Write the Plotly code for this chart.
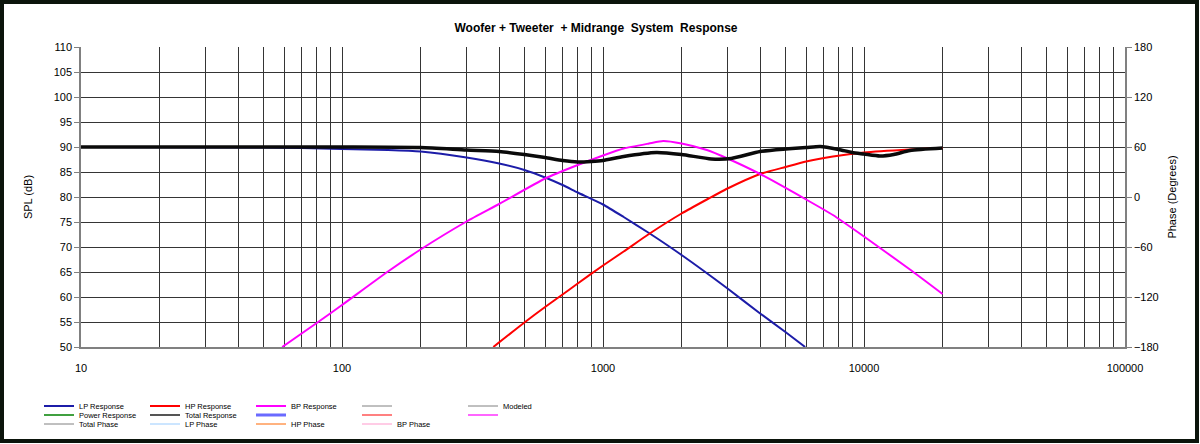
import plotly.graph_objects as go

# values (Hz, dB SPL)
lp_freq = [10, 50, 70, 100, 150, 200, 300, 400, 500, 600, 700, 800, 1000, 1200, 1500, 2000, 3000, 4000, 5000, 5950]
lp_spl = [90.0, 89.9, 89.8, 89.6, 89.4, 89.1, 87.9, 86.7, 85.4, 83.9, 82.4, 80.9, 78.5, 76.0, 72.8, 68.4, 61.7, 56.7, 53.0, 50.0]

hp_freq = [380, 500, 600, 700, 800, 1000, 1200, 1500, 2000, 2500, 3000, 4000, 5000, 6000, 7600, 10000, 15000, 20000]
hp_spl = [50.0, 54.9, 58.0, 60.5, 62.7, 66.3, 69.1, 72.6, 76.7, 79.5, 81.7, 84.6, 86.0, 87.1, 88.1, 88.9, 89.5, 89.8]

bp_freq = [59, 80, 100, 150, 200, 300, 400, 600, 800, 1000, 1200, 1500, 1700, 2000, 2500, 3000, 4000, 6000, 7600, 10000, 15000, 20000]
bp_spl = [50.0, 54.8, 58.4, 65.1, 69.5, 75.1, 78.6, 83.7, 86.4, 88.3, 89.7, 90.7, 91.2, 90.7, 89.4, 87.7, 84.6, 79.5, 76.4, 72.1, 65.5, 60.6]

tot_freq = [10, 100, 200, 300, 400, 500, 600, 700, 800, 900, 1000, 1200, 1600, 2000, 2600, 3100, 4000, 5000, 6000, 6800, 8000, 9000, 10000, 11500, 13000, 15000, 20000]
tot_spl = [90.0, 90.0, 89.9, 89.4, 89.1, 88.5, 87.9, 87.3, 87.0, 87.1, 87.3, 88.1, 88.9, 88.5, 87.6, 87.7, 89.1, 89.6, 89.9, 90.1, 89.5, 88.9, 88.6, 88.2, 88.5, 89.3, 89.8]

x_ticks = [10, 20, 30, 40, 50, 60, 70, 80, 90,
           100, 200, 300, 400, 500, 600, 700, 800, 900,
           1000, 2000, 3000, 4000, 5000, 6000, 7000, 8000, 9000,
           10000, 20000, 30000, 40000, 50000, 60000, 70000, 80000, 90000, 100000]
x_labels = [str(v) if str(v).strip("0") == "1" else "" for v in x_ticks]

# legend rows: (name, colour, width, legend id)
legend_rows = [
    ("LP Response", "#1c1ca8", 1.5, "legend"),
    ("HP Response", "#ff0000", 1.5, "legend"),
    ("BP Response", "#ff00ff", 1.5, "legend"),
    (" ", "#808080", 1, "legend"),
    ("Modeled", "#808080", 1, "legend"),
    ("Power Response", "#40a040", 2, "legend2"),
    ("Total Response", "#555555", 2, "legend2"),
    ("  ", "#6a6aff", 3, "legend2"),
    ("   ", "#ff8080", 2, "legend2"),
    ("    ", "#ff66ff", 2, "legend2"),
    ("Total Phase", "#808080", 1, "legend3"),
    ("LP Phase", "#99ccff", 1, "legend3"),
    ("HP Phase", "#ff6600", 1, "legend3"),
    ("BP Phase", "#ff99cc", 1, "legend3"),
]

fig = go.Figure()

curves = {
    "LP Response": (lp_freq, lp_spl),
    "HP Response": (hp_freq, hp_spl),
    "BP Response": (bp_freq, bp_spl),
}

for name, color, w, lg in legend_rows:
    if name in curves:
        fx, fy = curves[name]
        fig.add_trace(go.Scatter(x=fx, y=fy, mode="lines", name=name, legend=lg,
                                 line=dict(color=color, width=2, shape="spline", smoothing=0.5)))
    else:
        fig.add_trace(go.Scatter(x=[None], y=[None], mode="lines", name=name, legend=lg,
                                 line=dict(color=color, width=w)))

# thick black total curve (legend entry drawn above)
fig.add_trace(go.Scatter(x=tot_freq, y=tot_spl, mode="lines", showlegend=False,
                         line=dict(color="#0a0a0a", width=3.5, shape="spline", smoothing=0.6)))

# dummy trace to make the phase axis appear
fig.add_trace(go.Scatter(x=[None], y=[None], yaxis="y2", showlegend=False))

font = "Liberation Sans, Arial, sans-serif"
leg_common = dict(orientation="h", xref="container", yref="container", xanchor="left",
                  yanchor="middle", font=dict(size=7.5, family=font, color="#000"),
                  entrywidth=61, itemwidth=30, bgcolor="rgba(0,0,0,0)", tracegroupgap=0)

fig.update_layout(
    width=1200, height=444,
    margin=dict(l=81, r=75, t=47, b=97),
    paper_bgcolor="white", plot_bgcolor="white",
    font=dict(family=font, size=11, color="#000"),
    title=dict(text="<b>Woofer + Tweeter\u00a0 + Midrange\u00a0 System\u00a0 Response</b>",
               x=596 / 1200, xanchor="center", y=1 - 28 / 444, yanchor="middle",
               font=dict(size=12, family=font)),
    xaxis=dict(type="log", range=[1, 5], tickvals=x_ticks, ticktext=x_labels,
               showgrid=True, gridcolor="#353535", gridwidth=1, zeroline=False,
               showline=True, linecolor="#808080", linewidth=1.5, ticks="",
               ticklabelstandoff=10, tickfont=dict(size=11)),
    yaxis=dict(range=[50, 110], dtick=5, showgrid=True, gridcolor="#353535", gridwidth=1,
               zeroline=False, showline=True, linecolor="#808080", linewidth=1.5,
               ticks="outside", ticklen=5, tickcolor="#808080",
               title=dict(text="SPL (dB)", font=dict(size=11), standoff=19)),
    yaxis2=dict(range=[-180, 180], dtick=60, overlaying="y", side="right", showgrid=False,
                zeroline=False, showline=True, linecolor="#808080", linewidth=1.5,
                ticks="outside", ticklen=5, tickcolor="#808080",
                title=dict(text="Phase (Degrees)", font=dict(size=11), standoff=11)),
    legend=dict(x=39 / 1200, y=1 - 406 / 444, **leg_common),
    legend2=dict(x=39 / 1200, y=1 - 415 / 444, **leg_common),
    legend3=dict(x=39 / 1200, y=1 - 424 / 444, **leg_common),
)

# dark frame round the whole picture
fig.add_shape(type="rect", xref="paper", yref="paper",
              x0=(2 - 81) / 1044, x1=(1197 - 81) / 1044,
              y0=(347 - 441) / 300, y1=(347 - 2) / 300,
              line=dict(color="#0b140b", width=4))

fig.write_html("out.html", config={"displayModeBar": False},
               post_script="document.body.style.margin='0';")
